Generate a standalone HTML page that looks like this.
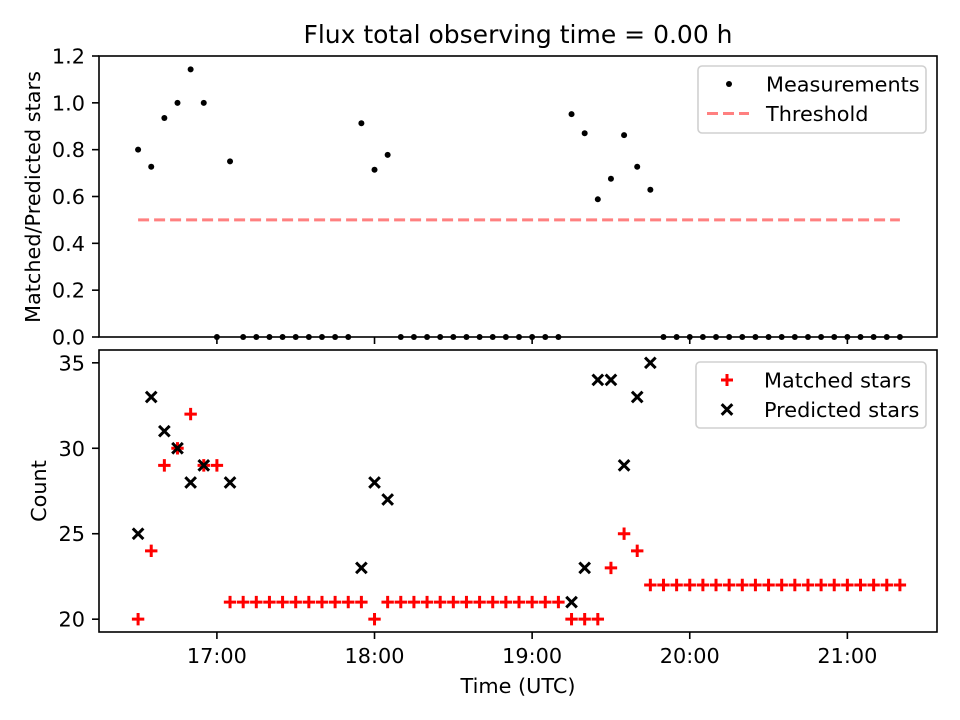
<!DOCTYPE html>
<html><head><meta charset="utf-8"><style>
html,body{margin:0;padding:0;background:#fff;width:960px;height:720px;overflow:hidden;}
svg{display:block;font-family:"DejaVu Sans","Liberation Sans",sans-serif;}
</style></head><body>
<svg id="chart" width="960" height="720" viewBox="0 0 960 720" xmlns="http://www.w3.org/2000/svg">
<rect width="960" height="720" fill="#fff"/>
<text x="518" y="43" font-size="25" text-anchor="middle">Flux total observing time = 0.00 h</text>
<g id="topPanel"></g>
<g id="botPanel"></g>
<text transform="translate(40,197) rotate(-90)" font-size="20.8" text-anchor="middle">Matched/Predicted stars</text>
<text transform="translate(46,491) rotate(-90)" font-size="20.8" text-anchor="middle">Count</text>
<text x="518" y="693" font-size="20.8" text-anchor="middle">Time (UTC)</text>
</svg>
<script>
// data: 59 samples every 5 minutes starting 16:30 UTC
const startHour = 16.5;
const stepMinutes = 5;
const ratios = [0.80,0.727,0.935,1.0,1.143,1.0,0,0.75,0,0,0,0,0,0,0,0,0,0.913,0.714,0.778,0,0,0,0,0,0,0,0,0,0,0,0,0,0.952,0.870,0.588,0.676,0.862,0.727,0.629,0,0,0,0,0,0,0,0,0,0,0,0,0,0,0,0,0,0,0];
const matched = [20,24,29,30,32,29,29,21,21,21,21,21,21,21,21,21,21,21,20,21,21,21,21,21,21,21,21,21,21,21,21,21,21,20,20,20,23,25,24,22,22,22,22,22,22,22,22,22,22,22,22,22,22,22,22,22,22,22,22];
const predicted = [25,33,31,30,28,29,0,28,0,0,0,0,0,0,0,0,0,23,28,27,0,0,0,0,0,0,0,0,0,0,0,0,0,21,23,34,34,29,33,35,0,0,0,0,0,0,0,0,0,0,0,0,0,0,0,0,0,0,0];
const threshold = 0.5;
const xTickHours = [17,18,19,20,21];
const xTickLabels = ["17:00","18:00","19:00","20:00","21:00"];
const topYTicks = [0,0.2,0.4,0.6,0.8,1.0,1.2];
const botYTicks = [20,25,30,35];

const NS="http://www.w3.org/2000/svg";
function mk(tag,attrs,parent){const e=document.createElementNS(NS,tag);for(const k in attrs)e.setAttribute(k,attrs[k]);parent.appendChild(e);return e;}
const L=99,R=937;
const times = ratios.map((_,i)=>startHour+i*stepMinutes/60);
const tMin=times[0], tMax=times[times.length-1], pad=(tMax-tMin)*0.05;
const x = t => 1+L+(t-(tMin-pad))/((tMax+pad)-(tMin-pad))*(R-L);
const topT=56, topB=337, botT=350, botB=632;
const yTop = v => topB-(v-0)/(1.2-0)*(topB-topT);
const bMin=19.25, bMax=35.75;
const yBot = v => botB-(v-bMin)/(bMax-bMin)*(botB-botT);

const topG=document.getElementById('topPanel'), botG=document.getElementById('botPanel');
const defs=mk('defs',{},document.getElementById('chart'));
const c1=mk('clipPath',{id:'ctop'},defs); mk('rect',{x:L,y:topT-6,width:R-L,height:topB-topT+12},c1);
const c2=mk('clipPath',{id:'cbot'},defs); mk('rect',{x:L,y:botT,width:R-L,height:botB-botT},c2);

function frame(g,t,b,yticks,yf,fmt,labelsX){
  xTickHours.forEach((h,i)=>{
    const tk=mk('line',{x1:x(h),x2:x(h),y1:b,y2:b+7,stroke:'#000','stroke-width':1.6},g);
    
    
    if(labelsX){const tl=mk('text',{x:x(h),y:b+31,'font-size':20.8,'text-anchor':'middle'},g);tl.textContent=xTickLabels[i];
      
      }
  });
  yticks.forEach(v=>{
    const tk=mk('line',{x1:L-7,x2:L,y1:yf(v),y2:yf(v),stroke:'#000','stroke-width':1.6},g);
    
    
    const tl=mk('text',{x:L-14,y:yf(v)+7.5,'font-size':20.8,'text-anchor':'end'},g);tl.textContent=fmt(v);
    
    
  });
}
frame(topG,topT,topB,topYTicks,yTop,v=>v.toFixed(1),false);
frame(botG,botT,botB,botYTicks,yBot,v=>String(v),true);

const th=mk('line',{x1:x(tMin),x2:x(tMax),y1:yTop(threshold),y2:yTop(threshold),stroke:'#ff8080','stroke-width':3,'stroke-dasharray':'11,5'},topG);


const tg=mk('g',{'clip-path':'url(#ctop)'},topG);
ratios.forEach((v,i)=>{
  const d=mk('circle',{cx:x(times[i]),cy:yTop(v),r:3,fill:'#000'},tg);
  
  
});
const bg=mk('g',{'clip-path':'url(#cbot)'},botG);
matched.forEach((v,i)=>{
  const cx=x(times[i]),cy=yBot(v),s=6.2;
  const p=mk('path',{d:`M${cx-s},${cy}H${cx+s}M${cx},${cy-s}V${cy+s}`,stroke:'#ff0000','stroke-width':3,fill:'none'},bg);
  
  
});
predicted.forEach((v,i)=>{
  const cx=x(times[i]),cy=yBot(v),s=5.3;
  const p=mk('path',{d:`M${cx-s},${cy-s}L${cx+s},${cy+s}M${cx-s},${cy+s}L${cx+s},${cy-s}`,stroke:'#000','stroke-width':3,fill:'none'},bg);
  
  
});
mk('rect',{x:L,y:topT,width:R-L,height:topB-topT,fill:'none',stroke:'#000','stroke-width':1.6},topG);
mk('rect',{x:L,y:botT,width:R-L,height:botB-botT,fill:'none',stroke:'#000','stroke-width':1.6},botG);

function legend(g,x0,y0,w,h,items){
  const lg=mk('g',{},g);
  
  
  mk('rect',{x:x0,y:y0,width:w,height:h,rx:4,fill:'#fff','fill-opacity':0.8,stroke:'#d0d0d0','stroke-width':1.6},lg);
  items.forEach((it,k)=>{
    const cy=y0+18+k*29.5, mx=x0+31;
    const e=mk('g',{},lg);
    
    
    if(it.type==='dot') mk('circle',{cx:mx,cy:cy,r:3,fill:'#000'},e);
    if(it.type==='dash') mk('line',{x1:mx-22,x2:mx+20,y1:cy,y2:cy,stroke:'#ff8080','stroke-width':3,'stroke-dasharray':'11,5'},e);
    if(it.type==='plus') mk('path',{d:`M${mx-6},${cy}H${mx+6}M${mx},${cy-6}V${cy+6}`,stroke:'#f00','stroke-width':3},e);
    if(it.type==='x') mk('path',{d:`M${mx-5.3},${cy-5.3}L${mx+5.3},${cy+5.3}M${mx-5.3},${cy+5.3}L${mx+5.3},${cy-5.3}`,stroke:'#000','stroke-width':3},e);
    const t=mk('text',{x:x0+68,y:cy+7.5,'font-size':20.8},e);t.textContent=it.label;
  });
}
legend(topG,698,66,228,67,[{type:'dot',label:'Measurements'},{type:'dash',label:'Threshold'}]);
legend(botG,696,362,230,66,[{type:'plus',label:'Matched stars'},{type:'x',label:'Predicted stars'}]);
</script>
</body></html>
